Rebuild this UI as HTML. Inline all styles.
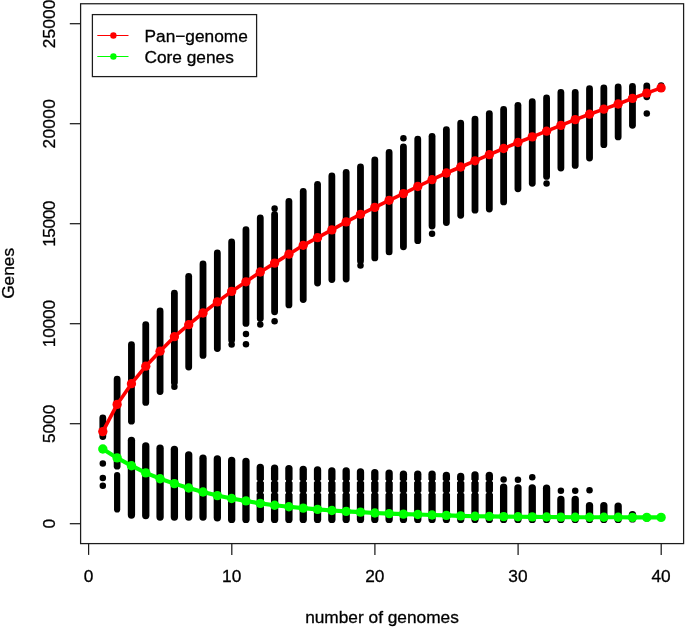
<!DOCTYPE html>
<html><head><meta charset="utf-8"><title>Pan-genome plot</title>
<style>
html,body{margin:0;padding:0;background:#fff}
svg{display:block}
text{font-family:"Liberation Sans",sans-serif;font-size:17.3px;fill:#000;stroke:#000;stroke-width:0.3px}
</style></head>
<body>
<svg width="685" height="628" viewBox="0 0 685 628">
<rect width="685" height="628" fill="#fff"/>
<g stroke="#000" stroke-width="6.8" stroke-linecap="round" fill="none">
<line x1="102.81" y1="417.8" x2="102.81" y2="436.6"/>
<line x1="117.13" y1="379.1" x2="117.13" y2="466.2"/>
<line x1="131.44" y1="344.6" x2="131.44" y2="421.2"/>
<line x1="145.76" y1="324.6" x2="145.76" y2="402.4"/>
<line x1="160.07" y1="310.9" x2="160.07" y2="391.6"/>
<line x1="174.39" y1="293.2" x2="174.39" y2="382.4"/>
<line x1="188.7" y1="276.3" x2="188.7" y2="367.1"/>
<line x1="203.02" y1="264.0" x2="203.02" y2="355.4"/>
<line x1="217.34" y1="252.9" x2="217.34" y2="348.6"/>
<line x1="231.65" y1="242.0" x2="231.65" y2="340.1"/>
<line x1="245.97" y1="229.7" x2="245.97" y2="323.4"/>
<line x1="260.28" y1="217.9" x2="260.28" y2="318.6"/>
<line x1="274.6" y1="214.4" x2="274.6" y2="311.8"/>
<line x1="288.91" y1="201.5" x2="288.91" y2="304.9"/>
<line x1="303.23" y1="191.4" x2="303.23" y2="299.6"/>
<line x1="317.54" y1="184.3" x2="317.54" y2="283.1"/>
<line x1="331.86" y1="176.0" x2="331.86" y2="279.5"/>
<line x1="346.17" y1="172.5" x2="346.17" y2="279.1"/>
<line x1="360.49" y1="166.9" x2="360.49" y2="261.1"/>
<line x1="374.8" y1="159.8" x2="374.8" y2="257.9"/>
<line x1="389.12" y1="152.4" x2="389.12" y2="251.9"/>
<line x1="403.43" y1="146.8" x2="403.43" y2="246.8"/>
<line x1="417.75" y1="139.1" x2="417.75" y2="240.7"/>
<line x1="432.06" y1="136.3" x2="432.06" y2="226.1"/>
<line x1="446.38" y1="129.6" x2="446.38" y2="222.5"/>
<line x1="460.69" y1="123.1" x2="460.69" y2="215.3"/>
<line x1="475.0" y1="119.1" x2="475.0" y2="210.2"/>
<line x1="489.32" y1="113.6" x2="489.32" y2="209.1"/>
<line x1="503.63" y1="109.5" x2="503.63" y2="201.9"/>
<line x1="517.95" y1="105.3" x2="517.95" y2="188.8"/>
<line x1="532.26" y1="101.7" x2="532.26" y2="183.3"/>
<line x1="546.58" y1="98.0" x2="546.58" y2="176.4"/>
<line x1="560.89" y1="92.4" x2="560.89" y2="168.1"/>
<line x1="575.21" y1="92.4" x2="575.21" y2="165.4"/>
<line x1="589.52" y1="88.7" x2="589.52" y2="158.1"/>
<line x1="603.84" y1="88.0" x2="603.84" y2="144.7"/>
<line x1="618.15" y1="86.9" x2="618.15" y2="136.9"/>
<line x1="632.47" y1="86.4" x2="632.47" y2="125.3"/>
<line x1="646.78" y1="85.8" x2="646.78" y2="96.8"/>
<line x1="131.44" y1="440.3" x2="131.44" y2="515.0" stroke-width="7.3"/>
<line x1="145.76" y1="445.9" x2="145.76" y2="515.6" stroke-width="7.3"/>
<line x1="160.07" y1="448.2" x2="160.07" y2="517.1" stroke-width="7.3"/>
<line x1="174.39" y1="449.3" x2="174.39" y2="517.1" stroke-width="7.3"/>
<line x1="188.7" y1="454.8" x2="188.7" y2="517.1" stroke-width="7.3"/>
<line x1="203.02" y1="458.2" x2="203.02" y2="517.1" stroke-width="7.3"/>
<line x1="217.34" y1="459.0" x2="217.34" y2="517.8" stroke-width="7.3"/>
<line x1="231.65" y1="460.4" x2="231.65" y2="519.4" stroke-width="7.3"/>
<line x1="245.97" y1="461.5" x2="245.97" y2="519.4" stroke-width="7.3"/>
<line x1="260.28" y1="467.5" x2="260.28" y2="519.4" stroke-width="7.3"/>
<line x1="274.6" y1="468.2" x2="274.6" y2="519.4" stroke-width="7.3"/>
<line x1="288.91" y1="468.6" x2="288.91" y2="519.4" stroke-width="7.3"/>
<line x1="303.23" y1="469.3" x2="303.23" y2="519.4" stroke-width="7.3"/>
<line x1="317.54" y1="469.8" x2="317.54" y2="519.4" stroke-width="7.3"/>
<line x1="331.86" y1="470.9" x2="331.86" y2="519.4" stroke-width="7.3"/>
<line x1="346.17" y1="470.9" x2="346.17" y2="519.4" stroke-width="7.3"/>
<line x1="360.49" y1="472.0" x2="360.49" y2="519.4" stroke-width="7.3"/>
<line x1="374.8" y1="472.6" x2="374.8" y2="519.4" stroke-width="7.3"/>
<line x1="389.12" y1="473.1" x2="389.12" y2="519.4" stroke-width="7.3"/>
<line x1="403.43" y1="474.2" x2="403.43" y2="519.4" stroke-width="7.3"/>
<line x1="417.75" y1="474.2" x2="417.75" y2="519.4" stroke-width="7.3"/>
<line x1="432.06" y1="474.2" x2="432.06" y2="519.4" stroke-width="7.3"/>
<line x1="446.38" y1="475.5" x2="446.38" y2="519.4" stroke-width="7.3"/>
<line x1="460.69" y1="476.4" x2="460.69" y2="519.4" stroke-width="7.3"/>
<line x1="475.0" y1="474.9" x2="475.0" y2="519.4" stroke-width="7.3"/>
<line x1="489.32" y1="475.3" x2="489.32" y2="519.4" stroke-width="7.3"/>
<line x1="503.63" y1="487.1" x2="503.63" y2="519.4" stroke-width="7.3"/>
<line x1="517.95" y1="487.8" x2="517.95" y2="519.4" stroke-width="7.3"/>
<line x1="532.26" y1="487.8" x2="532.26" y2="519.4" stroke-width="7.3"/>
<line x1="546.58" y1="488.2" x2="546.58" y2="519.4" stroke-width="7.3"/>
<line x1="560.89" y1="499.4" x2="560.89" y2="519.4" stroke-width="7.3"/>
<line x1="575.21" y1="499.4" x2="575.21" y2="519.4" stroke-width="7.3"/>
<line x1="589.52" y1="505.6" x2="589.52" y2="519.4" stroke-width="7.3"/>
<line x1="603.84" y1="505.6" x2="603.84" y2="519.4" stroke-width="7.3"/>
<line x1="618.15" y1="506.1" x2="618.15" y2="519.4" stroke-width="7.3"/>
<line x1="632.47" y1="514.6" x2="632.47" y2="518.9" stroke-width="7.3"/>
<line x1="646.78" y1="517.4" x2="646.78" y2="517.9" stroke-width="7.3"/>
<line x1="117.13" y1="475" x2="117.13" y2="509.4" stroke-width="6.2"/>
</g>
<g fill="#000">
<circle cx="102.81" cy="463.5" r="3.25"/>
<circle cx="102.81" cy="478.0" r="3.25"/>
<circle cx="102.81" cy="485.8" r="3.25"/>
<circle cx="174.39" cy="386.8" r="3.25"/>
<circle cx="231.65" cy="344.6" r="3.25"/>
<circle cx="245.97" cy="333.9" r="3.25"/>
<circle cx="245.97" cy="344.2" r="3.25"/>
<circle cx="260.28" cy="324.4" r="3.25"/>
<circle cx="274.6" cy="208.5" r="3.25"/>
<circle cx="274.6" cy="321.3" r="3.25"/>
<circle cx="360.49" cy="265.4" r="3.25"/>
<circle cx="403.43" cy="138.3" r="3.25"/>
<circle cx="432.06" cy="233.7" r="3.25"/>
<circle cx="546.58" cy="183.4" r="3.25"/>
<circle cx="646.78" cy="113.6" r="3.25"/>
<circle cx="661.1" cy="85.4" r="3.25"/>
<circle cx="503.63" cy="479.5" r="3.25"/>
<circle cx="517.95" cy="479.7" r="3.25"/>
<circle cx="532.26" cy="477.3" r="3.25"/>
<circle cx="560.89" cy="490.7" r="3.25"/>
<circle cx="575.21" cy="490.7" r="3.25"/>
<circle cx="589.52" cy="490.2" r="3.25"/>
<circle cx="661.1" cy="517.4" r="3.25"/>
</g>
<g fill="#fff">
<ellipse cx="255.98" cy="481.0" rx="1.5" ry="1.2"/>
<ellipse cx="264.58" cy="481.0" rx="1.5" ry="1.2"/>
<ellipse cx="255.98" cy="492.8" rx="1.5" ry="1.2"/>
<ellipse cx="264.58" cy="492.8" rx="1.5" ry="1.2"/>
<ellipse cx="270.30" cy="481.0" rx="1.5" ry="1.2"/>
<ellipse cx="278.90" cy="481.0" rx="1.5" ry="1.2"/>
<ellipse cx="270.30" cy="492.8" rx="1.5" ry="1.2"/>
<ellipse cx="278.90" cy="492.8" rx="1.5" ry="1.2"/>
<ellipse cx="284.61" cy="481.0" rx="1.5" ry="1.2"/>
<ellipse cx="293.21" cy="481.0" rx="1.5" ry="1.2"/>
<ellipse cx="284.61" cy="492.8" rx="1.5" ry="1.2"/>
<ellipse cx="293.21" cy="492.8" rx="1.5" ry="1.2"/>
<ellipse cx="298.93" cy="481.0" rx="1.5" ry="1.2"/>
<ellipse cx="307.53" cy="481.0" rx="1.5" ry="1.2"/>
<ellipse cx="298.93" cy="492.8" rx="1.5" ry="1.2"/>
<ellipse cx="307.53" cy="492.8" rx="1.5" ry="1.2"/>
<ellipse cx="313.24" cy="481.0" rx="1.5" ry="1.2"/>
<ellipse cx="321.84" cy="481.0" rx="1.5" ry="1.2"/>
<ellipse cx="313.24" cy="492.8" rx="1.5" ry="1.2"/>
<ellipse cx="321.84" cy="492.8" rx="1.5" ry="1.2"/>
<ellipse cx="327.56" cy="481.0" rx="1.5" ry="1.2"/>
<ellipse cx="336.16" cy="481.0" rx="1.5" ry="1.2"/>
<ellipse cx="327.56" cy="492.8" rx="1.5" ry="1.2"/>
<ellipse cx="336.16" cy="492.8" rx="1.5" ry="1.2"/>
<ellipse cx="341.87" cy="481.0" rx="1.5" ry="1.2"/>
<ellipse cx="350.47" cy="481.0" rx="1.5" ry="1.2"/>
<ellipse cx="341.87" cy="492.8" rx="1.5" ry="1.2"/>
<ellipse cx="350.47" cy="492.8" rx="1.5" ry="1.2"/>
<ellipse cx="356.19" cy="481.0" rx="1.5" ry="1.2"/>
<ellipse cx="364.79" cy="481.0" rx="1.5" ry="1.2"/>
<ellipse cx="356.19" cy="492.8" rx="1.5" ry="1.2"/>
<ellipse cx="364.79" cy="492.8" rx="1.5" ry="1.2"/>
<ellipse cx="370.50" cy="481.0" rx="1.5" ry="1.2"/>
<ellipse cx="379.10" cy="481.0" rx="1.5" ry="1.2"/>
<ellipse cx="370.50" cy="492.8" rx="1.5" ry="1.2"/>
<ellipse cx="379.10" cy="492.8" rx="1.5" ry="1.2"/>
<ellipse cx="384.82" cy="481.0" rx="1.5" ry="1.2"/>
<ellipse cx="393.42" cy="481.0" rx="1.5" ry="1.2"/>
<ellipse cx="384.82" cy="492.8" rx="1.5" ry="1.2"/>
<ellipse cx="393.42" cy="492.8" rx="1.5" ry="1.2"/>
<ellipse cx="399.13" cy="481.0" rx="1.5" ry="1.2"/>
<ellipse cx="407.73" cy="481.0" rx="1.5" ry="1.2"/>
<ellipse cx="399.13" cy="492.8" rx="1.5" ry="1.2"/>
<ellipse cx="407.73" cy="492.8" rx="1.5" ry="1.2"/>
<ellipse cx="413.45" cy="481.0" rx="1.5" ry="1.2"/>
<ellipse cx="422.05" cy="481.0" rx="1.5" ry="1.2"/>
<ellipse cx="413.45" cy="492.8" rx="1.5" ry="1.2"/>
<ellipse cx="422.05" cy="492.8" rx="1.5" ry="1.2"/>
<ellipse cx="427.76" cy="481.0" rx="1.5" ry="1.2"/>
<ellipse cx="436.36" cy="481.0" rx="1.5" ry="1.2"/>
<ellipse cx="427.76" cy="492.8" rx="1.5" ry="1.2"/>
<ellipse cx="436.36" cy="492.8" rx="1.5" ry="1.2"/>
<ellipse cx="442.08" cy="481.0" rx="1.5" ry="1.2"/>
<ellipse cx="450.68" cy="481.0" rx="1.5" ry="1.2"/>
<ellipse cx="442.08" cy="492.8" rx="1.5" ry="1.2"/>
<ellipse cx="450.68" cy="492.8" rx="1.5" ry="1.2"/>
<ellipse cx="456.39" cy="481.0" rx="1.5" ry="1.2"/>
<ellipse cx="464.99" cy="481.0" rx="1.5" ry="1.2"/>
<ellipse cx="456.39" cy="492.8" rx="1.5" ry="1.2"/>
<ellipse cx="464.99" cy="492.8" rx="1.5" ry="1.2"/>
<ellipse cx="470.70" cy="481.0" rx="1.5" ry="1.2"/>
<ellipse cx="479.30" cy="481.0" rx="1.5" ry="1.2"/>
<ellipse cx="470.70" cy="492.8" rx="1.5" ry="1.2"/>
<ellipse cx="479.30" cy="492.8" rx="1.5" ry="1.2"/>
<ellipse cx="485.02" cy="481.0" rx="1.5" ry="1.2"/>
<ellipse cx="493.62" cy="481.0" rx="1.5" ry="1.2"/>
<ellipse cx="485.02" cy="492.8" rx="1.5" ry="1.2"/>
<ellipse cx="493.62" cy="492.8" rx="1.5" ry="1.2"/>
</g>
<polyline points="102.81,431.6 117.13,404.4 131.44,383.7 145.76,366.2 160.07,351.2 174.39,336.7 188.7,324.7 203.02,313.0 217.34,301.9 231.65,291.4 245.97,281.8 260.28,272.0 274.6,263.1 288.91,254.2 303.23,245.3 317.54,237.7 331.86,229.9 346.17,221.9 360.49,214.3 374.8,207.4 389.12,200.3 403.43,193.6 417.75,186.5 432.06,179.7 446.38,173.0 460.69,167.0 475.0,160.8 489.32,154.7 503.63,148.5 517.95,142.5 532.26,136.9 546.58,131.2 560.89,125.4 575.21,119.6 589.52,114.2 603.84,109.1 618.15,104.0 632.47,98.4 646.78,93.1 661.1,87.9" fill="none" stroke="#ff0000" stroke-width="3.6" stroke-linejoin="round" stroke-linecap="round"/>
<g fill="#ff0000">
<circle cx="102.81" cy="431.6" r="4.65"/>
<circle cx="117.13" cy="404.4" r="4.65"/>
<circle cx="131.44" cy="383.7" r="4.65"/>
<circle cx="145.76" cy="366.2" r="4.65"/>
<circle cx="160.07" cy="351.2" r="4.65"/>
<circle cx="174.39" cy="336.7" r="4.65"/>
<circle cx="188.7" cy="324.7" r="4.65"/>
<circle cx="203.02" cy="313.0" r="4.65"/>
<circle cx="217.34" cy="301.9" r="4.65"/>
<circle cx="231.65" cy="291.4" r="4.65"/>
<circle cx="245.97" cy="281.8" r="4.65"/>
<circle cx="260.28" cy="272.0" r="4.65"/>
<circle cx="274.6" cy="263.1" r="4.65"/>
<circle cx="288.91" cy="254.2" r="4.65"/>
<circle cx="303.23" cy="245.3" r="4.65"/>
<circle cx="317.54" cy="237.7" r="4.65"/>
<circle cx="331.86" cy="229.9" r="4.65"/>
<circle cx="346.17" cy="221.9" r="4.65"/>
<circle cx="360.49" cy="214.3" r="4.65"/>
<circle cx="374.8" cy="207.4" r="4.65"/>
<circle cx="389.12" cy="200.3" r="4.65"/>
<circle cx="403.43" cy="193.6" r="4.65"/>
<circle cx="417.75" cy="186.5" r="4.65"/>
<circle cx="432.06" cy="179.7" r="4.65"/>
<circle cx="446.38" cy="173.0" r="4.65"/>
<circle cx="460.69" cy="167.0" r="4.65"/>
<circle cx="475.0" cy="160.8" r="4.65"/>
<circle cx="489.32" cy="154.7" r="4.65"/>
<circle cx="503.63" cy="148.5" r="4.65"/>
<circle cx="517.95" cy="142.5" r="4.65"/>
<circle cx="532.26" cy="136.9" r="4.65"/>
<circle cx="546.58" cy="131.2" r="4.65"/>
<circle cx="560.89" cy="125.4" r="4.65"/>
<circle cx="575.21" cy="119.6" r="4.65"/>
<circle cx="589.52" cy="114.2" r="4.65"/>
<circle cx="603.84" cy="109.1" r="4.65"/>
<circle cx="618.15" cy="104.0" r="4.65"/>
<circle cx="632.47" cy="98.4" r="4.65"/>
<circle cx="646.78" cy="93.1" r="4.65"/>
<circle cx="661.1" cy="87.9" r="4.65"/>
</g>
<polyline points="102.81,449.0 117.13,457.9 131.44,465.7 145.76,472.9 160.07,478.7 174.39,483.6 188.7,488.0 203.02,492.0 217.34,495.6 231.65,498.5 245.97,500.9 260.28,503.4 274.6,505.2 288.91,506.7 303.23,508.1 317.54,509.4 331.86,510.5 346.17,511.4 360.49,512.1 374.8,513.0 389.12,513.6 403.43,514.1 417.75,514.5 432.06,515.0 446.38,515.4 460.69,515.9 475.0,516.2 489.32,516.4 503.63,516.6 517.95,516.8 532.26,516.9 546.58,517.0 560.89,517.1 575.21,517.2 589.52,517.2 603.84,517.3 618.15,517.3 632.47,517.4 646.78,517.4 661.1,517.4" fill="none" stroke="#00ff00" stroke-width="4.1" stroke-linejoin="round" stroke-linecap="round"/>
<g fill="#00ff00">
<circle cx="102.81" cy="449.0" r="4.7"/>
<circle cx="117.13" cy="457.9" r="4.7"/>
<circle cx="131.44" cy="465.7" r="4.7"/>
<circle cx="145.76" cy="472.9" r="4.7"/>
<circle cx="160.07" cy="478.7" r="4.7"/>
<circle cx="174.39" cy="483.6" r="4.7"/>
<circle cx="188.7" cy="488.0" r="4.7"/>
<circle cx="203.02" cy="492.0" r="4.7"/>
<circle cx="217.34" cy="495.6" r="4.7"/>
<circle cx="231.65" cy="498.5" r="4.7"/>
<circle cx="245.97" cy="500.9" r="4.7"/>
<circle cx="260.28" cy="503.4" r="4.7"/>
<circle cx="274.6" cy="505.2" r="4.7"/>
<circle cx="288.91" cy="506.7" r="4.7"/>
<circle cx="303.23" cy="508.1" r="4.7"/>
<circle cx="317.54" cy="509.4" r="4.7"/>
<circle cx="331.86" cy="510.5" r="4.7"/>
<circle cx="346.17" cy="511.4" r="4.7"/>
<circle cx="360.49" cy="512.1" r="4.7"/>
<circle cx="374.8" cy="513.0" r="4.7"/>
<circle cx="389.12" cy="513.6" r="4.7"/>
<circle cx="403.43" cy="514.1" r="4.7"/>
<circle cx="417.75" cy="514.5" r="4.7"/>
<circle cx="432.06" cy="515.0" r="4.7"/>
<circle cx="446.38" cy="515.4" r="4.7"/>
<circle cx="460.69" cy="515.9" r="4.7"/>
<circle cx="475.0" cy="516.2" r="4.7"/>
<circle cx="489.32" cy="516.4" r="4.7"/>
<circle cx="503.63" cy="516.6" r="4.7"/>
<circle cx="517.95" cy="516.8" r="4.7"/>
<circle cx="532.26" cy="516.9" r="4.7"/>
<circle cx="546.58" cy="517.0" r="4.7"/>
<circle cx="560.89" cy="517.1" r="4.7"/>
<circle cx="575.21" cy="517.2" r="4.7"/>
<circle cx="589.52" cy="517.2" r="4.7"/>
<circle cx="603.84" cy="517.3" r="4.7"/>
<circle cx="618.15" cy="517.3" r="4.7"/>
<circle cx="632.47" cy="517.4" r="4.7"/>
<circle cx="646.78" cy="517.4" r="4.7"/>
<circle cx="661.1" cy="517.4" r="4.7"/>
</g>
<g stroke="#1c1c1c" stroke-width="1.25" fill="none">
<rect x="80.6" y="3.75" width="603" height="539.85"/>
<line x1="88.6" y1="543.6" x2="88.6" y2="554.9"/>
<line x1="231.8" y1="543.6" x2="231.8" y2="554.9"/>
<line x1="374.9" y1="543.6" x2="374.9" y2="554.9"/>
<line x1="518.1" y1="543.6" x2="518.1" y2="554.9"/>
<line x1="661.2" y1="543.6" x2="661.2" y2="554.9"/>
<line x1="69.8" y1="523.7" x2="80.6" y2="523.7"/>
<line x1="69.8" y1="423.7" x2="80.6" y2="423.7"/>
<line x1="69.8" y1="323.7" x2="80.6" y2="323.7"/>
<line x1="69.8" y1="223.7" x2="80.6" y2="223.7"/>
<line x1="69.8" y1="123.7" x2="80.6" y2="123.7"/>
<line x1="69.8" y1="23.7" x2="80.6" y2="23.7"/>
<rect x="92.4" y="14.6" width="164.2" height="62" fill="#fff"/>
</g>
<line x1="97.3" y1="35.5" x2="128.5" y2="35.5" stroke="#ff0000" stroke-width="1"/>
<circle cx="113.4" cy="35.5" r="3.2" fill="#ff0000"/>
<line x1="97.3" y1="56.5" x2="128.5" y2="56.5" stroke="#00ff00" stroke-width="1"/>
<circle cx="113.4" cy="56.5" r="3.2" fill="#00ff00"/>
<text x="144.5" y="41.5">Pan−genome</text>
<text x="144.5" y="62.5">Core genes</text>
<text x="88.5" y="581.5" text-anchor="middle">0</text>
<text x="231.65" y="581.5" text-anchor="middle">10</text>
<text x="374.8" y="581.5" text-anchor="middle">20</text>
<text x="517.95" y="581.5" text-anchor="middle">30</text>
<text x="661.1" y="581.5" text-anchor="middle">40</text>
<text transform="translate(55,523.7) rotate(-90)" text-anchor="middle" letter-spacing="0">0</text>
<text transform="translate(55,423.9) rotate(-90)" text-anchor="middle" letter-spacing="0">5000</text>
<text transform="translate(55,323.65) rotate(-90)" text-anchor="middle" letter-spacing="-0.15">10000</text>
<text transform="translate(55,223.9) rotate(-90)" text-anchor="middle" letter-spacing="-0.45">15000</text>
<text transform="translate(55,123.7) rotate(-90)" text-anchor="middle" letter-spacing="0.3">20000</text>
<text transform="translate(55,23.9) rotate(-90)" text-anchor="middle" letter-spacing="0.1">25000</text>
<text x="382" y="622.8" text-anchor="middle">number of genomes</text>
<text transform="translate(13.7,273.4) rotate(-90)" text-anchor="middle">Genes</text>
</svg>
</body></html>
